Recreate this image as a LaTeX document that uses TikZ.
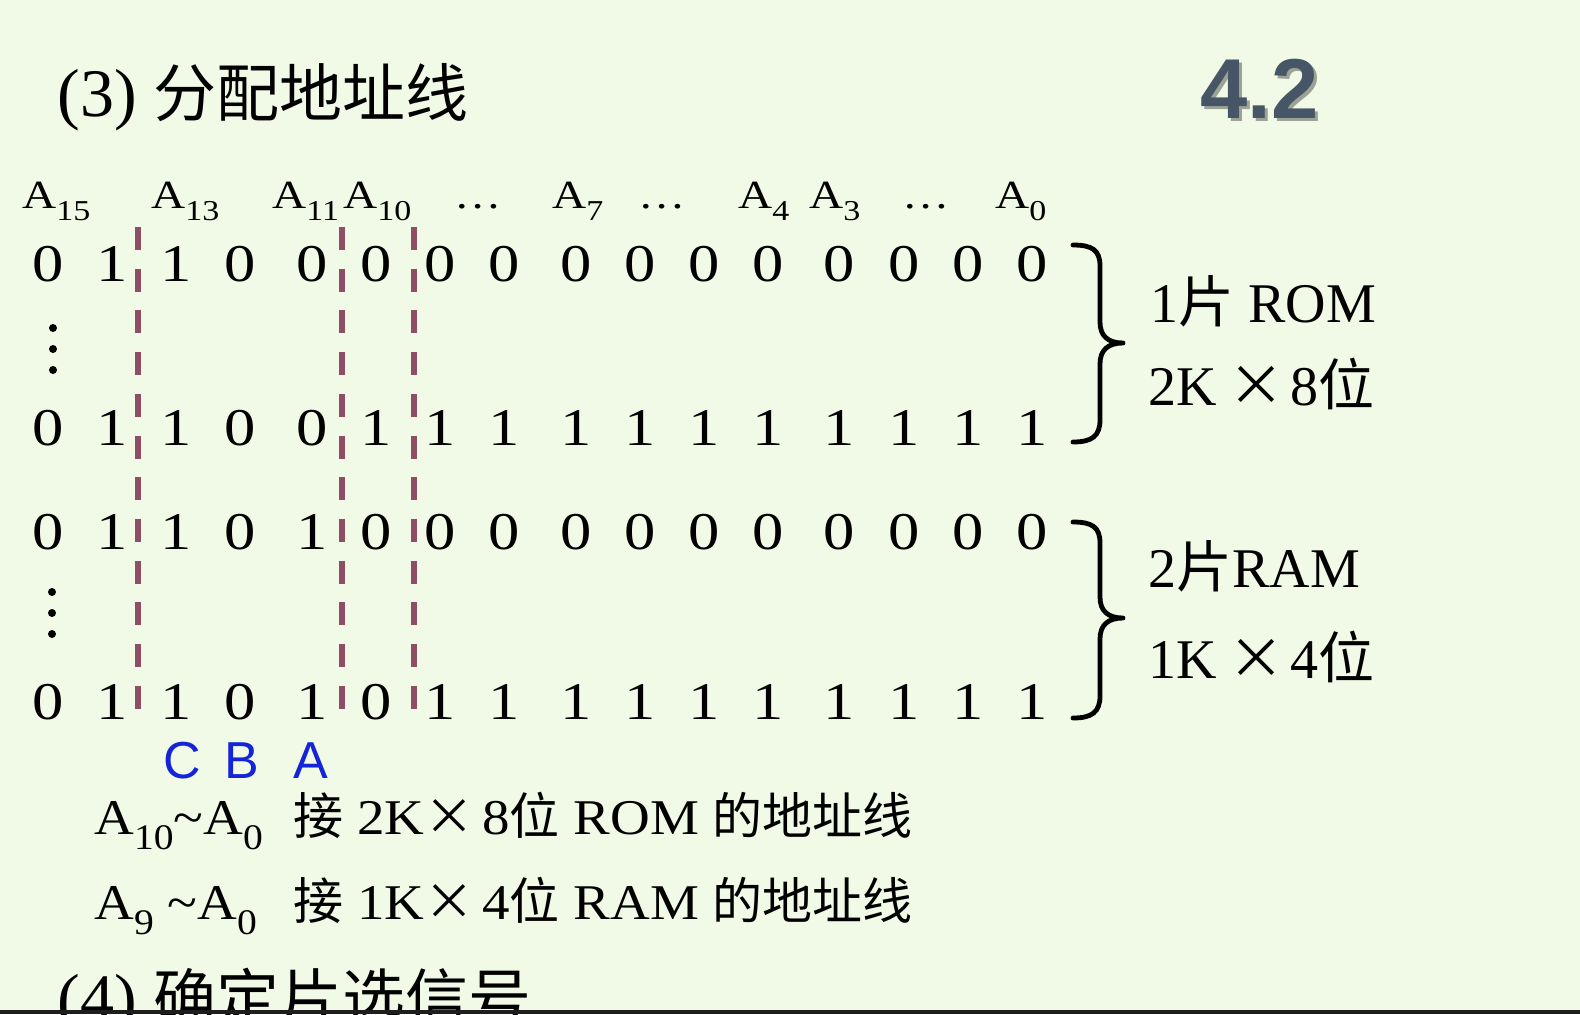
\documentclass[tikz,border=0pt]{standalone}
\usepackage{fontspec}
\setmainfont{Liberation Serif}
\newfontfamily\cjk{Noto Sans CJK SC}
\newfontfamily\widefont[FakeStretch=1.18]{Liberation Serif}
\newfontfamily\botfont[FakeStretch=1.1]{Liberation Serif}
\newfontfamily\sansf{Liberation Sans}
\newcommand\zh[1]{{\cjk #1}}
\newcommand\sbs[1]{\raisebox{-0.3em}{\scalebox{0.72}{#1}}}
\definecolor{bgc}{RGB}{241,250,230}
\definecolor{sepc}{RGB}{143,78,102}
\definecolor{secc}{RGB}{70,86,102}
\definecolor{abc}{RGB}{20,36,215}
\definecolor{barc}{RGB}{30,30,30}
\tikzset{
  ttl/.style={anchor=base west, inner sep=0pt, font=\fontsize{34pt}{40pt}\selectfont},
  hdr/.style={anchor=base west, inner sep=0pt, font=\widefont\fontsize{20pt}{24pt}\selectfont},
  digit/.style={anchor=base, inner sep=0pt, font=\widefont\fontsize{26.5pt}{30pt}\selectfont},
  lbl/.style={anchor=base west, inner sep=0pt, font=\fontsize{28pt}{32pt}\selectfont},
  bot/.style={anchor=base west, inner sep=0pt, font=\botfont\fontsize{25pt}{30pt}\selectfont},
  cba/.style={anchor=base west, inner sep=0pt, text=abc, font=\sansf\fontsize{26pt}{30pt}\selectfont},
  sepline/.style={draw=sepc, line width=3pt, dash pattern=on 11.5pt off 9.35pt},
  bracestyle/.style={draw=black, line width=2.4pt, line cap=round, line join=round},
  dotf/.style={fill=black}
}
\begin{document}
\begin{tikzpicture}[x=0.5pt,y=-0.5pt]
\useasboundingbox (0,0) rectangle (1580,1014);
\clip (0,0) rectangle (1580,1014);
\fill[bgc] (0,0) rectangle (1580,1014);

% title
\node[ttl] (title) at (57,116) {(3) {\cjk\fontsize{31.5pt}{36pt}\selectfont 分配地址线}};
\node[anchor=base west, inner sep=0pt, text=black, opacity=0.35, font=\sansf\bfseries\fontsize{42.5pt}{48pt}\selectfont] (secsh) at (1203,121) {4.2};
\node[anchor=base west, inner sep=0pt, text=secc, font=\sansf\bfseries\fontsize{42.5pt}{48pt}\selectfont] (sec) at (1200,118) {4.2};

% header
\node[hdr] (h15) at (22,208) {A\sbs{15}};
\node[hdr] (h13) at (151,208) {A\sbs{13}};
\node[hdr] (h11) at (272,208) {A\sbs{11}};
\node[hdr] (h10) at (343,208) {A\sbs{10}};
\node[hdr, anchor=base] (e1) at (478,208) {…};
\node[hdr] (h7) at (552,208) {A\sbs{7}};
\node[hdr, anchor=base] (e2) at (662,208) {…};
\node[hdr] (h4) at (738,208) {A\sbs{4}};
\node[hdr] (h3) at (809,208) {A\sbs{3}};
\node[hdr, anchor=base] (e3) at (926,208) {…};
\node[hdr] (h0) at (995,208) {A\sbs{0}};

% digit rows
\foreach \x/\d [count=\i] in {48/0,112/1,176/1,240/0,312/0,376/0,440/0,504/0,576/0,640/0,704/0,768/0,839/0,904/0,968/0,1032/0}
  \node[digit] (ra\i) at (\x,281) {\d};
\foreach \x/\d [count=\i] in {48/0,112/1,176/1,240/0,312/0,376/1,440/1,504/1,576/1,640/1,704/1,768/1,839/1,904/1,968/1,1032/1}
  \node[digit] (rb\i) at (\x,445) {\d};
\foreach \x/\d [count=\i] in {48/0,112/1,176/1,240/0,312/1,376/0,440/0,504/0,576/0,640/0,704/0,768/0,839/0,904/0,968/0,1032/0}
  \node[digit] (rc\i) at (\x,549) {\d};
\foreach \x/\d [count=\i] in {48/0,112/1,176/1,240/0,312/1,376/0,440/1,504/1,576/1,640/1,704/1,768/1,839/1,904/1,968/1,1032/1}
  \node[digit] (rd\i) at (\x,719) {\d};

% vertical dots
\foreach \y in {328,349,370} \fill[dotf] (53,\y) circle (4);
\foreach \y in {592,613,634} \fill[dotf] (52,\y) circle (4);

% dashed separators
\coordinate (s1t) at (138,227); \coordinate (s1b) at (138,710);
\coordinate (s2t) at (342,227); \coordinate (s2b) at (342,710);
\coordinate (s3t) at (414,227); \coordinate (s3b) at (414,710);
\draw[sepline] (s1t) -- (s1b);
\draw[sepline] (s2t) -- (s2b);
\draw[sepline] (s3t) -- (s3b);

% braces
\draw[bracestyle] (1073,245) .. controls (1092,245) and (1100,250) .. (1100,266)
  -- (1100,322) .. controls (1100,336) and (1108,343) .. (1123,343)
  .. controls (1108,343) and (1100,350) .. (1100,364)
  -- (1100,420) .. controls (1100,436) and (1092,442) .. (1073,442);
\draw[bracestyle] (1073,522) .. controls (1092,522) and (1100,527) .. (1100,543)
  -- (1100,597) .. controls (1100,611) and (1108,618) .. (1123,618)
  .. controls (1108,618) and (1100,625) .. (1100,639)
  -- (1100,696) .. controls (1100,712) and (1092,718) .. (1073,718);

% right labels
\node[lbl] (rom1) at (1150,322) {1\zh{片} ROM};
\node[lbl] (rom2) at (1148,405) {2K\hspace{6pt}\zh{×}\hspace{3pt}8\zh{位}};
\node[lbl] (ram1) at (1148,587) {2\zh{片}RAM};
\node[lbl] (ram2) at (1148,678) {1K\hspace{6pt}\zh{×}\hspace{3pt}4\zh{位}};

% C B A
\node[cba] (lc) at (163,778) {C};
\node[cba] (lb) at (224,778) {B};
\node[cba] (la) at (293,778) {A};

% bottom lines
\node[bot] (l1a) at (94,834) {A\sbs{10}\textasciitilde A\sbs{0}};
\node[bot] (l1b) at (293,834) {\zh{接} 2K\zh{×}\hspace{4pt}8\zh{位} ROM \zh{的地址线}};
\node[bot] (l2a) at (94,919) {A\sbs{9} \textasciitilde A\sbs{0}};
\node[bot] (l2b) at (293,919) {\zh{接} 1K\zh{×}\hspace{4pt}4\zh{位} RAM \zh{的地址线}};

% next heading (cut off by the lower edge, as in the slide)
\node[ttl] (next) at (57,1021) {(4) {\cjk\fontsize{31.5pt}{36pt}\selectfont 确定片选信号}};

\fill[barc] (0,1010) rectangle (1580,1014);
\end{tikzpicture}
\end{document}
